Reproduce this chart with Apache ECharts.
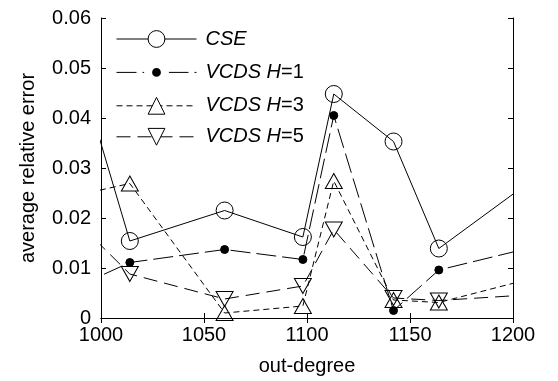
<!DOCTYPE html>
<html>
<head>
<meta charset="utf-8">
<script src="https://cdn.jsdelivr.net/npm/echarts@6/dist/echarts.min.js"></script>
<style>
  html, body { margin: 0; padding: 0; background: #fff; }
  #chart { width: 558px; height: 381px; }
</style>
</head>
<body>
<div id="chart"></div>
<script>
// out-degree values (first and last lie outside the axes and get clipped)
const outDegree = [990, 1014, 1060, 1098, 1113, 1142, 1164, 1210];

const cse   = [0.0488, 0.0154, 0.0215, 0.0162, 0.0448, 0.0353, 0.0139, 0.0278];
const vcdsH1 = [0.0066, 0.0111, 0.0137, 0.0117, 0.0405, 0.0015, 0.0096, 0.0142];
const vcdsH3 = [0.0247, 0.0269, 0.0010, 0.0024, 0.0274, 0.0036, 0.0031, 0.0080];
const vcdsH5 = [0.0186, 0.0088, 0.0038, 0.0064, 0.0177, 0.0040, 0.0035, 0.0047];

const seriesNames = ['CSE', 'VCDS H=1', 'VCDS H=3', 'VCDS H=5'];

const FONT = 'Liberation Sans';

const pairs = ys => outDegree.map((x, i) => [x, ys[i]]);

const openStyle = { color: 'rgba(0,0,0,0)', borderColor: '#000', borderWidth: 1 };

const chart = echarts.init(document.getElementById('chart'), null, { renderer: 'canvas' });

const boxAxis = {
  axisLine: { show: true, lineStyle: { color: '#000', width: 1 } },
  axisTick: { show: true, inside: true, length: 5, lineStyle: { color: '#000' } },
  splitLine: { show: false }
};

const option = {
  animation: false,
  backgroundColor: '#fff',
  textStyle: { fontFamily: FONT, color: '#000' },
  grid: { left: 101, right: 45, top: 18, bottom: 60 },
  legend: {
    orient: 'vertical',
    left: 116,
    top: 29,
    padding: 0,
    itemWidth: 80,
    itemHeight: 21,
    itemGap: 11,
    lineStyle: { width: 1, color: '#000' },
    data: [
      { name: seriesNames[0], itemStyle: { color: '#fff', borderWidth: 1 } },
      { name: seriesNames[1], itemStyle: { color: '#000', borderColor: '#fff', borderWidth: 8 } },
      { name: seriesNames[2], itemStyle: { color: '#fff', borderWidth: 1 } },
      { name: seriesNames[3], itemStyle: { color: '#fff', borderWidth: 1 } }
    ],
    formatter: name => {
      const m = name.match(/^(.*H)(=\d)$/);
      return m ? '{i|' + m[1] + '}{n|' + m[2] + '}' : '{i|' + name + '}';
    },
    textStyle: {
      fontFamily: FONT,
      color: '#000',
      padding: [0, 0, 0, 4],
      rich: {
        i: { fontFamily: FONT, fontSize: 20, fontStyle: 'italic', color: '#000', lineHeight: 20 },
        n: { fontFamily: FONT, fontSize: 20, color: '#000', lineHeight: 20 }
      }
    }
  },
  xAxis: [
    Object.assign({
      type: 'value',
      min: 1000,
      max: 1200,
      interval: 50,
      name: 'out-degree',
      nameLocation: 'middle',
      nameGap: 38,
      nameTextStyle: { fontFamily: FONT, fontSize: 20, color: '#000' },
      axisLabel: { fontFamily: FONT, fontSize: 20, color: '#000', margin: 7, formatter: v => String(v) }
    }, boxAxis),
    Object.assign({
      type: 'value',
      position: 'top',
      min: 1000,
      max: 1200,
      interval: 50,
      axisLabel: { show: false }
    }, boxAxis)
  ],
  yAxis: [
    Object.assign({
      type: 'value',
      min: 0,
      max: 0.06,
      interval: 0.01,
      name: 'average relative error',
      nameLocation: 'middle',
      nameGap: 63,
      nameTextStyle: { fontFamily: FONT, fontSize: 20, color: '#000' },
      axisLabel: { fontFamily: FONT, fontSize: 20, color: '#000', margin: 10 }
    }, boxAxis),
    Object.assign({
      type: 'value',
      position: 'right',
      min: 0,
      max: 0.06,
      interval: 0.01,
      axisLabel: { show: false }
    }, boxAxis)
  ],
  series: [
    {
      name: seriesNames[0],
      type: 'line',
      data: pairs(cse),
      clip: true,
      symbol: 'circle',
      symbolSize: 17,
      itemStyle: openStyle,
      lineStyle: { color: '#000', width: 1, type: 'solid' }
    },
    {
      name: seriesNames[1],
      type: 'line',
      data: pairs(vcdsH1),
      clip: true,
      symbol: 'circle',
      symbolSize: 8,
      itemStyle: { color: '#000', borderColor: '#000', borderWidth: 1 },
      lineStyle: { color: '#000', width: 1, type: [20, 6] }
    },
    {
      name: seriesNames[2],
      type: 'line',
      data: pairs(vcdsH3),
      clip: true,
      symbol: 'triangle',
      symbolSize: [17, 15],
      itemStyle: openStyle,
      lineStyle: { color: '#000', width: 1, type: [6, 4] }
    },
    {
      name: seriesNames[3],
      type: 'line',
      data: pairs(vcdsH5),
      clip: true,
      symbol: 'triangle',
      symbolRotate: 180,
      symbolSize: [17, 15],
      itemStyle: openStyle,
      lineStyle: { color: '#000', width: 1, type: [14, 7] }
    }
  ]
};

chart.setOption(option);
</script>
</body>
</html>
